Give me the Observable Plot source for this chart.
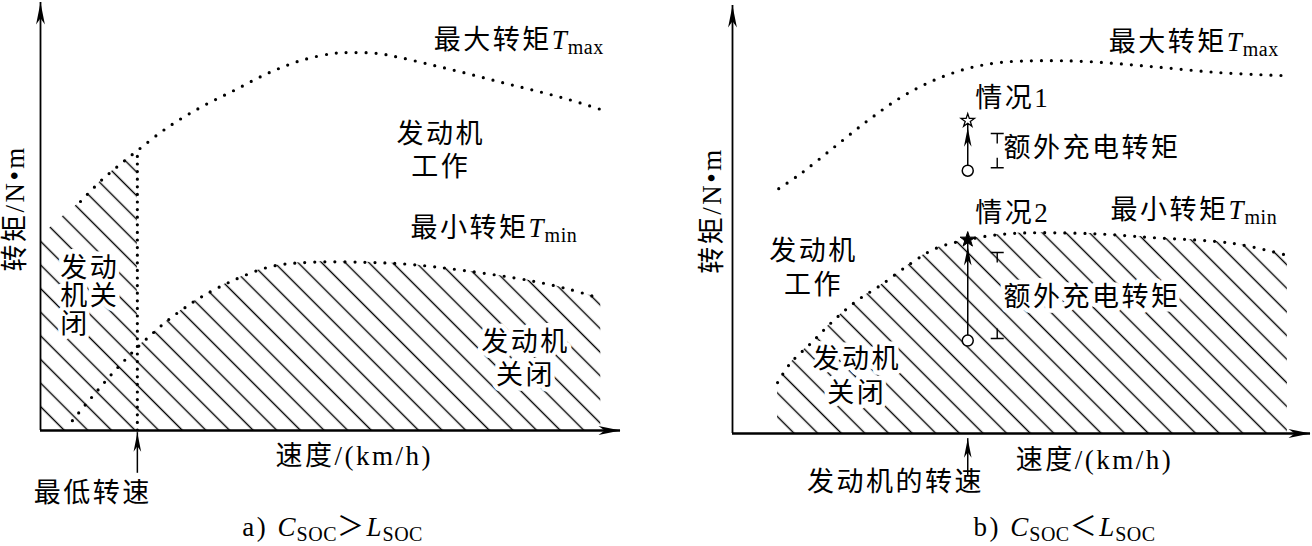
<!DOCTYPE html>
<html><head><meta charset="utf-8">
<script src="https://cdn.jsdelivr.net/npm/d3@7"></script>
<script src="https://cdn.jsdelivr.net/npm/@observablehq/plot@0.6"></script>
<style>
html,body{margin:0;padding:0;background:#fff;}
#wrap{display:flex;width:1312px;height:546px;overflow:hidden;}
#wrap svg{flex:none;}
</style></head><body><div id="wrap"></div>
<script>
// ---------------- data ----------------
const speedDomain = [0, 100];   // speed (relative units)
const torqueDomain = [0, 100];  // torque (relative units)

// panel a) C_SOC > L_SOC
const tmaxSpeedA = [0, 3.4, 6.9, 10.3, 13.3, 16.7, 21.9, 27.6, 33.3, 39.1, 44.8, 50.5, 54.0, 58.1, 62.1, 67.8, 73.6, 79.3, 85.0, 90.9, 96.6];
const tmaxA      = [45.3, 49.5, 53.5, 58.2, 61.7, 65.4, 70.8, 75.5, 79.4, 83.4, 86.4, 88.1, 88.3, 88.1, 87.1, 85.3, 83.4, 81.4, 79.5, 77.4, 75.0];
const tminSpeedA = [5.5, 7.8, 10.0, 12.1, 14.3, 16.7, 19.5, 21.9, 24.7, 27.6, 32.8, 39.7, 46.6, 55.7, 63.8, 72.9, 84.5, 91.4, 96.6];
const tminA      = [2.3, 6.1, 9.6, 12.9, 16.1, 19.4, 22.9, 25.7, 28.5, 31.1, 34.8, 38.3, 39.3, 39.3, 38.8, 37.4, 35.0, 32.9, 30.8];
const minSpeedA = 16.7;             // 最低转速
const tmaxDotsFromA = 6.0;          // dotted T_max is drawn from this speed on
const markerArrowA = [-10.0, -0.5]; // torque span of the 最低转速 pointer

const curveLabelsA  = [{text: "最大转矩T_max", speed: 67.8, torque: 91.1}, {text: "最小转矩T_min", speed: 63.8, torque: 47.2}];
const regionLabelsA = [{text: "发动机\n工作", speed: 69.0, torque: 65.8}, {text: "发动机\n关闭", speed: 83.6, torque: 17.2}];
const offLabelA     = [{text: "发动\n机关\n闭", speed: 3.4, torque: 31.5}];
const xTitleA   = [{text: "速度/(km/h)", speed: 40.5, torque: -6.1}];
const markLabelA = [{text: "最低转速", speed: 9.0, torque: -14.7}];
const captionA  = [{text: "a) C_SOC＞L_SOC", speed: 34.8, torque: -22.7}];
const yTitleA   = [{text: "转矩/N•m", speed: -4.3, torque: 51.9}];

// panel b) C_SOC < L_SOC
const tmaxSpeedB = [8.0, 11.8, 17.5, 23.4, 29.1, 34.8, 40.7, 46.4, 53.3, 61.4, 72.8, 84.4, 95.7];
const tmaxB      = [57.2, 60.7, 66.8, 73.1, 78.5, 82.5, 85.3, 86.7, 87.1, 86.9, 85.7, 84.3, 83.6];
const tminSpeedB = [7.8, 10.0, 13.5, 17.5, 21.6, 25.6, 30.8, 35.1, 40.7, 48.1, 61.9, 72.3, 86.7, 96.0];
const tminB      = [11.9, 16.4, 21.0, 26.4, 31.1, 34.6, 39.7, 43.2, 45.3, 46.7, 46.7, 45.8, 44.4, 41.6];
const engineSpeedB = 40.7;           // 发动机的转速
const markerArrowB = [-9.8, -1.2];
const caseNames  = ["情况1", "情况2"];
const caseStart  = [61.4, 21.7];     // operating point (circle)
const caseTarget = [73.1, 45.3];     // operating point incl. extra charging torque (star)
const caseFilled = [false, true];
const bracketSpeed  = 45.8;
const bracketTop    = [70.1, 42.3];
const bracketBottom = [62.1, 22.2];

const curveLabelsB  = [{text: "最大转矩T_max", speed: 65.1, torque: 91.4}, {text: "最小转矩T_min", speed: 65.4, torque: 52.1}];
const caseLabelsB   = [{text: "情况1", speed: 42.0, torque: 78.3}, {text: "情况2", speed: 42.0, torque: 51.4}];
const extraLabelsB  = [{text: "额外充电转矩", speed: 46.9, torque: 66.6}, {text: "额外充电转矩", speed: 46.9, torque: 31.8}];
const regionLabelsB = [{text: "发动机\n工作", speed: 14.0, torque: 39.1}, {text: "发动机\n关闭", speed: 21.5, torque: 13.8}];
const xTitleB    = [{text: "速度/(km/h)", speed: 49.0, torque: -6.3}];
const markLabelB = [{text: "发动机的转速", speed: 28.2, torque: -11.4}];
const captionB   = [{text: "b) C_SOC＜L_SOC", speed: 41.7, torque: -22.0}];
const yTitleB    = [{text: "转矩/N•m", speed: -3.5, torque: 52.1}];

// ---------------- helpers ----------------
const table = (xs, ys) => xs.map((s, i) => ({speed: s, torque: ys[i]}));
const FONT = "'Liberation Serif','Noto Sans CJK SC',serif";
const CURVE = "catmull-rom";

const arrowUp = {draw(ctx, size) {const L = Math.sqrt(size / Math.PI), w = L * 0.2;
  ctx.moveTo(0, 0); ctx.lineTo(w, L); ctx.lineTo(0, L * 0.72); ctx.lineTo(-w, L); ctx.closePath();}};
const arrowRight = {draw(ctx, size) {const L = Math.sqrt(size / Math.PI), w = L * 0.2;
  ctx.moveTo(0, 0); ctx.lineTo(-L, w); ctx.lineTo(-L * 0.72, 0); ctx.lineTo(-L, -w); ctx.closePath();}};
const teeDown = {draw(ctx, size) {const L = Math.sqrt(size / Math.PI);
  ctx.moveTo(-6.5, 0); ctx.lineTo(6.5, 0); ctx.moveTo(0, 0); ctx.lineTo(0, L);}};
const teeUp = {draw(ctx, size) {const L = Math.sqrt(size / Math.PI);
  ctx.moveTo(-6.5, 0); ctx.lineTo(6.5, 0); ctx.moveTo(0, 0); ctx.lineTo(0, -L);}};

const dotted = (gap) => ({stroke: "black", strokeWidth: 3.2, strokeLinecap: "round", strokeDasharray: `0 ${gap}`, curve: CURVE});
const hatch = (id) => ({fill: `url(#${id})`, curve: CURVE});

function axes() {
  return [
    Plot.ruleX([{speed: speedDomain[0]}], {x: "speed", y1: torqueDomain[0], y2: torqueDomain[1], stroke: "black", strokeWidth: 1.8}),
    Plot.ruleY([{torque: torqueDomain[0]}], {y: "torque", x1: speedDomain[0], x2: speedDomain[1], stroke: "black", strokeWidth: 2.4}),
    Plot.dot([{speed: speedDomain[0], torque: torqueDomain[1]}], {x: "speed", y: "torque", symbol: arrowUp, r: 22, fill: "black", stroke: "none"}),
    Plot.dot([{speed: speedDomain[1], torque: torqueDomain[0]}], {x: "speed", y: "torque", symbol: arrowRight, r: 22, fill: "black", stroke: "none"})
  ];
}
function labels(data, opts = {}) {
  return Plot.text(data, {x: "speed", y: "torque", text: "text", fontSize: 27, fill: "black", ...opts});
}
function haloLabels(data, opts = {}) {
  return [
    labels(data, {...opts, fill: "white", stroke: "white", strokeWidth: 9}),
    labels(data, opts)
  ];
}
function pointer(speed, span) {
  return [
    Plot.ruleX([{speed}], {x: "speed", y1: span[0], y2: span[1], stroke: "black", strokeWidth: 1.5}),
    Plot.dot([{speed, torque: span[1]}], {x: "speed", y: "torque", symbol: arrowUp, r: 19, fill: "black", stroke: "none"})
  ];
}
function addHatch(svg, id) {
  const ns = "http://www.w3.org/2000/svg";
  const defs = document.createElementNS(ns, "defs");
  const pat = document.createElementNS(ns, "pattern");
  const W = 16.7;
  pat.setAttribute("id", id);
  pat.setAttribute("patternUnits", "userSpaceOnUse");
  pat.setAttribute("width", W); pat.setAttribute("height", W);
  pat.setAttribute("patternTransform", "rotate(-45)");
  const ln = document.createElementNS(ns, "line");
  ln.setAttribute("x1", W / 2); ln.setAttribute("x2", W / 2);
  ln.setAttribute("y1", -1); ln.setAttribute("y2", W + 1);
  ln.setAttribute("stroke", "black"); ln.setAttribute("stroke-width", 1.4);
  pat.appendChild(ln); defs.appendChild(pat);
  svg.insertBefore(defs, svg.firstChild);
}
function richify(svg) {
  d3.select(svg).selectAll("text").each(function () {
    if (this.querySelector("tspan")) return;
    const t = this.textContent;
    if (!t.includes("_")) return;
    const parts = t.split(/([A-Z])_([A-Za-z]+)/);
    this.textContent = "";
    const sel = d3.select(this);
    let lowered = false;
    for (let i = 0; i < parts.length; i += 3) {
      if (parts[i]) {
        const s = sel.append("tspan").text(parts[i]);
        if (lowered) { s.attr("dy", -5); lowered = false; }
      }
      if (i + 1 < parts.length) {
        const it = sel.append("tspan").attr("font-style", "italic").attr("letter-spacing", 1).text(parts[i + 1]);
        if (lowered) { it.attr("dy", -5); lowered = false; }
        sel.append("tspan").attr("font-size", 20).attr("letter-spacing", 0.5).attr("dy", 5).text(parts[i + 2]);
        lowered = true;
      }
    }
  });
}
function build(marks, margins, hatchId) {
  const svg = Plot.plot({
    width: 656, height: 546, ...margins,
    x: {domain: speedDomain, axis: null},
    y: {domain: torqueDomain, axis: null},
    style: `font-family:${FONT};font-size:27px;letter-spacing:2.5px;color:black;background:white;overflow:visible;`,
    marks
  });
  addHatch(svg, hatchId);
  richify(svg);
  return svg;
}

// ---------------- panel a ----------------
const tmaxTabA = table(tmaxSpeedA, tmaxA);
const tminTabA = table(tminSpeedA, tminA);
const tmaxAtMinA = tmaxA[tmaxSpeedA.indexOf(minSpeedA)];
const svgA = build([
  Plot.areaY(tmaxTabA.filter(d => d.speed <= minSpeedA), {x: "speed", y: "torque", ...hatch("hatch-a")}),
  Plot.areaY(tminTabA.filter(d => d.speed >= minSpeedA), {x: "speed", y: "torque", ...hatch("hatch-a")}),
  Plot.line(tmaxTabA.filter(d => d.speed >= tmaxDotsFromA), {x: "speed", y: "torque", ...dotted(10)}),
  Plot.line(tminTabA, {x: "speed", y: "torque", ...dotted(10)}),
  Plot.ruleX([{speed: minSpeedA}], {x: "speed", y1: 0, y2: tmaxAtMinA, stroke: "black", strokeWidth: 3.2, strokeLinecap: "round", strokeDasharray: "0 7.6"}),
  ...axes(),
  ...pointer(minSpeedA, markerArrowA),
  labels(curveLabelsA, {textAnchor: "start"}),
  ...haloLabels(regionLabelsA, {lineHeight: 1.24}),
  ...haloLabels(offLabelA, {textAnchor: "start", lineHeight: 1.04}),
  labels(xTitleA, {textAnchor: "start"}),
  labels(markLabelA),
  labels(captionA, {textAnchor: "start"}),
  labels(yTitleA, {rotate: -90})
], {marginLeft: 40, marginRight: 36, marginTop: 2, marginBottom: 116}, "hatch-a");

// ---------------- panel b ----------------
const tmaxTabB = table(tmaxSpeedB, tmaxB);
const tminTabB = table(tminSpeedB, tminB);
const cases = caseNames.map((name, i) => ({name, speed: engineSpeedB, start: caseStart[i], target: caseTarget[i], filled: caseFilled[i], top: bracketTop[i], bottom: bracketBottom[i]}));
const svgB = build([
  Plot.areaY(tminTabB, {x: "speed", y: "torque", ...hatch("hatch-b")}),
  Plot.line(tmaxTabB, {x: "speed", y: "torque", ...dotted(10)}),
  Plot.line(tminTabB, {x: "speed", y: "torque", ...dotted(10)}),
  ...axes(),
  ...pointer(engineSpeedB, markerArrowB),
  ...haloLabels(extraLabelsB, {textAnchor: "start"}),
  ...haloLabels(regionLabelsB, {lineHeight: 1.24}),
  Plot.link(cases, {x1: "speed", x2: "speed", y1: "start", y2: "target", stroke: "black", strokeWidth: 1.5}),
  Plot.dot(cases, {x: "speed", y: "target", dy: 7, symbol: arrowUp, r: 19, fill: "black", stroke: "none"}),
  Plot.dot(cases, {x: "speed", y: "start", r: 5.5, fill: "white", stroke: "black", strokeWidth: 1.5}),
  Plot.dot(cases.filter(d => !d.filled), {x: "speed", y: "target", symbol: "star", r: 4.2, fill: "white", stroke: "black", strokeWidth: 1.3}),
  Plot.dot(cases.filter(d => d.filled), {x: "speed", y: "target", symbol: "star", r: 4.8, fill: "black", stroke: "black", strokeWidth: 1}),
  Plot.dot(cases, {x: () => bracketSpeed, y: "top", symbol: teeDown, r: 10, fill: "none", stroke: "black", strokeWidth: 1.4}),
  Plot.dot(cases, {x: () => bracketSpeed, y: "bottom", symbol: teeUp, r: 10, fill: "none", stroke: "black", strokeWidth: 1.4}),
  labels(curveLabelsB, {textAnchor: "start"}),
  labels(caseLabelsB, {textAnchor: "start"}),
  labels(xTitleB, {textAnchor: "start"}),
  labels(markLabelB),
  labels(captionB, {textAnchor: "start"}),
  labels(yTitleB, {rotate: -90})
], {marginLeft: 76, marginRight: 2, marginTop: 5, marginBottom: 113}, "hatch-b");

document.getElementById("wrap").append(svgA, svgB);
</script></body></html>
